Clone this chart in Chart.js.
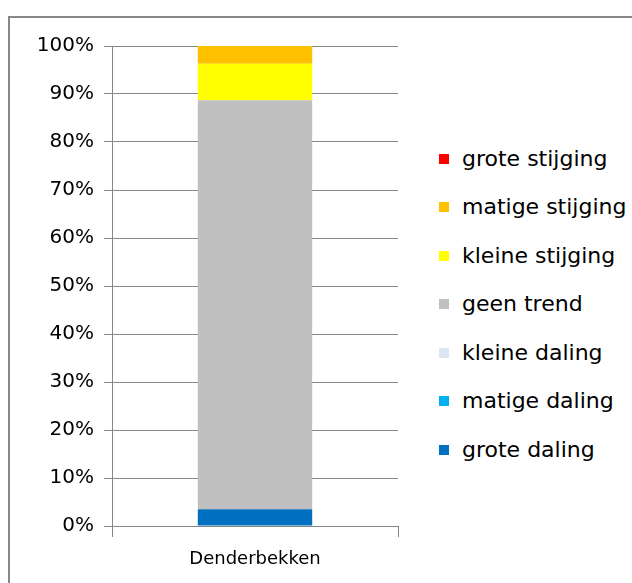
<!DOCTYPE html>
<html>
<head>
<meta charset="utf-8">
<script src="https://cdn.jsdelivr.net/npm/chart.js@4"></script>
<style>
  html, body { margin: 0; padding: 0; background: #fff; overflow: hidden; }
  #frame {
    position: absolute; left: 8px; top: 16px;
    width: 700px; height: 640px;
    border: 2px solid #878787; background: #fff;
  }
  #wrap { position: absolute; left: 0; top: 0; width: 400px; height: 565px; }
  #legend {
    position: absolute; left: 429px; top: 116.75px;
    margin: 0; padding: 0; list-style: none;
    font-family: 'DejaVu Sans', sans-serif; font-size: 22px; color: #000;
  }
  #legend li { height: 48.5px; line-height: 48.5px; white-space: nowrap; }
  #legend .box {
    display: inline-block; width: 10px; height: 10px;
    vertical-align: middle; margin-right: 13px; position: relative; top: -1px;
  }
</style>
</head>
<body>
<div id="frame">
  <div id="wrap"><canvas id="trendChart"></canvas></div>
  <ul id="legend"></ul>
</div>
<script>
const categories = ['Denderbekken'];
const groteDaling = [3.5];
const matigeDaling = [0];
const kleineDaling = [0];
const geenTrend = [85.2];
const kleineStijging = [7.6];
const matigeStijging = [3.7];
const groteStijging = [0];
const yMax = 100;
const yStep = 10;

Chart.defaults.font.family = "'DejaVu Sans', sans-serif";
Chart.defaults.color = '#000';

// legend as html, built from the chart's own legend items (top item = last dataset)
const htmlLegend = {
    id: 'htmlLegend',
    afterUpdate(chart) {
        const ul = document.getElementById('legend');
        ul.innerHTML = '';
        const items = chart.options.plugins.legend.labels.generateLabels(chart).reverse();
        items.forEach(item => {
            const li = document.createElement('li');
            const box = document.createElement('span');
            box.className = 'box';
            box.style.background = item.fillStyle;
            li.appendChild(box);
            li.appendChild(document.createTextNode(item.text));
            ul.appendChild(li);
        });
    },
};

const ctx = document.getElementById('trendChart').getContext('2d');
new Chart(ctx, {
    type: 'bar',
    data: {
        labels: categories,
        datasets: [
            { label: 'grote daling', data: groteDaling, backgroundColor: '#0070C0' },
            { label: 'matige daling', data: matigeDaling, backgroundColor: '#00B0F0' },
            { label: 'kleine daling', data: kleineDaling, backgroundColor: '#DCE6F2' },
            { label: 'geen trend', data: geenTrend, backgroundColor: '#C0C0C0' },
            { label: 'kleine stijging', data: kleineStijging, backgroundColor: '#FFFF00' },
            { label: 'matige stijging', data: matigeStijging, backgroundColor: '#FFC000' },
            { label: 'grote stijging', data: groteStijging, backgroundColor: '#FF0000' },
        ],
    },
    options: {
        responsive: true,
        maintainAspectRatio: false,
        animation: false,
        borderWidth: 0,
        barPercentage: 0.4,
        categoryPercentage: 1,
        layout: { padding: { top: 28, bottom: 0, left: 0, right: 12 } },
        plugins: {
            tooltip: { enabled: false },
            legend: { display: false },
        },
        scales: {
            x: {
                stacked: true,
                grid: { drawOnChartArea: false, tickLength: 11, color: '#868686' },
                border: { color: '#868686' },
                ticks: { font: { size: 18 }, padding: 12 },
                afterFit: s => { s.height = 57; },
            },
            y: {
                stacked: true,
                min: 0,
                max: yMax,
                ticks: {
                    stepSize: yStep,
                    font: { size: 20 },
                    padding: 10,
                    callback: v => v + '%',
                },
                grid: { color: '#868686', tickLength: 8 },
                border: { color: '#868686' },
                afterFit: s => { s.width = 102; },
            },
        },
    },
    plugins: [htmlLegend],
});
</script>
</body>
</html>
